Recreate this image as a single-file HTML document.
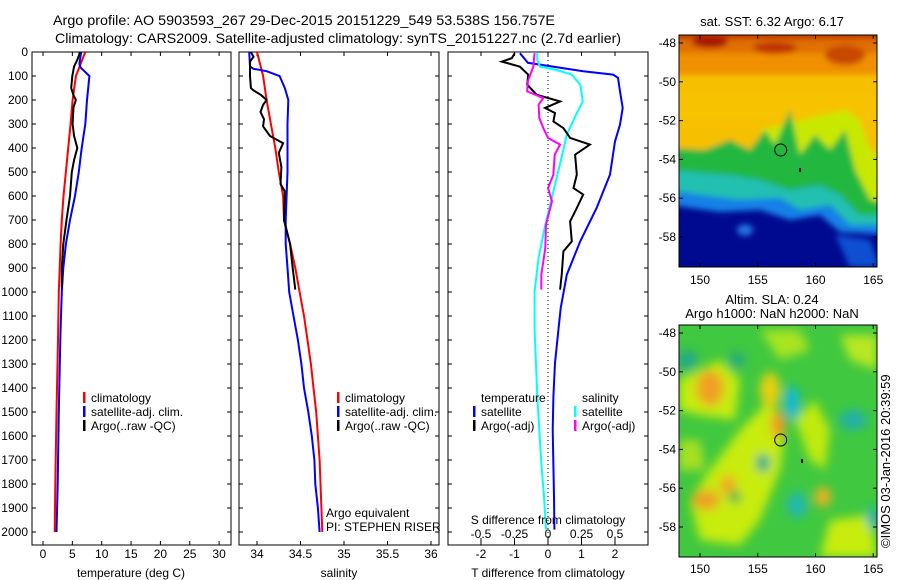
<!DOCTYPE html>
<html><head><meta charset="utf-8"><style>
html,body{margin:0;padding:0;background:#fff;}
svg{display:block;font-family:"Liberation Sans",sans-serif;}
</style></head><body>
<svg id="fig" width="900" height="580" viewBox="0 0 900 580" xmlns="http://www.w3.org/2000/svg">
<defs>
<filter id="blur3" x="-10%" y="-10%" width="120%" height="120%"><feGaussianBlur stdDeviation="3"/></filter>
<filter id="blur5" x="-20%" y="-20%" width="140%" height="140%"><feGaussianBlur stdDeviation="5"/></filter>
<clipPath id="cp1"><rect x="32" y="52" width="199" height="493"/></clipPath>
<clipPath id="cp2"><rect x="239" y="52" width="200" height="493"/></clipPath>
<clipPath id="cp3"><rect x="448" y="52" width="200" height="493"/></clipPath>
<clipPath id="cm1"><rect x="679" y="35" width="198" height="232"/></clipPath>
<clipPath id="cm2"><rect x="679" y="325" width="198" height="232"/></clipPath>
</defs>
<g font-size="14" fill="#000">
<text x="53" y="25" textLength="502" lengthAdjust="spacingAndGlyphs">Argo profile: AO 5903593_267 29-Dec-2015 20151229_549 53.538S 156.757E</text>
<text x="55" y="43" textLength="566" lengthAdjust="spacingAndGlyphs">Climatology: CARS2009. Satellite-adjusted climatology: synTS_20151227.nc (2.7d earlier)</text>
</g>

<!-- SST map -->
<g>
<g clip-path="url(#cm1)">
<rect x="679" y="35" width="198" height="232" fill="#000a90"/>
<g filter="url(#blur3)">
<rect x="670" y="25" width="220" height="60" fill="#f09000"/>
<rect x="670" y="25" width="220" height="28" fill="#e07000"/>
<rect x="670" y="25" width="220" height="14" fill="#c03800"/>
<ellipse cx="710" cy="42" rx="18" ry="6" fill="#a81800"/>
<ellipse cx="775" cy="48" rx="22" ry="6" fill="#c03000"/>
<ellipse cx="845" cy="55" rx="20" ry="10" fill="#c84800"/>
<path d="M670,75 L890,75 L890,180 L870,200 L855,170 L845,130 L830,150 L815,135 L800,155 L790,110 L775,145 L765,130 L750,150 L730,140 L705,150 L670,148 Z" fill="#f6c000"/>
<path d="M670,95 L890,95 L890,120 L670,120 Z" fill="#f8c400" opacity="0.6"/>
<path d="M760,130 L775,145 L790,112 L800,155 L815,135 L830,150 L845,130 L855,170 L870,200 L890,205 L890,160 L870,150 L860,120 L845,110 Z" fill="#c8e800"/>
<path d="M670,148 L705,150 L730,140 L750,150 L765,130 L775,145 L790,110 L800,155 L815,135 L830,150 L845,130 L855,170 L870,200 L890,205 L890,215 L860,215 L840,195 L820,185 L790,190 L760,180 L730,175 L670,170 Z" fill="#20b840"/>
<path d="M670,170 L730,175 L760,180 L790,190 L820,185 L840,195 L860,215 L890,215 L890,225 L850,225 L830,205 L800,210 L780,198 L740,200 L700,195 L670,190 Z" fill="#20c0b0"/>
<path d="M670,190 L700,195 L740,200 L780,198 L800,210 L830,205 L850,225 L890,225 L890,235 L840,232 L820,215 L790,220 L760,210 L720,212 L670,205 Z" fill="#1880e8"/>
<path d="M835,235 L870,240 L880,267 L850,267 Z" fill="#1050d0"/>
<ellipse cx="745" cy="230" rx="8" ry="6" fill="#2070e0"/>
</g>
<circle cx="780.7" cy="150" r="6" fill="none" stroke="#000" stroke-width="1"/>
<rect x="799" y="168" width="2" height="4" fill="#000"/>
</g>
<rect x="679" y="35" width="198" height="232" fill="none" stroke="#000"/>
</g>

<!-- SLA map -->
<g>
<g clip-path="url(#cm2)">
<rect x="679" y="325" width="198" height="232" fill="#40c840"/>
<g filter="url(#blur5)">
<path d="M679,380 L720,360 L740,380 L735,420 L700,415 L679,410 Z" fill="#c8ec10"/>
<path d="M740,430 L770,400 L785,430 L780,470 L760,520 L740,545 L700,540 L690,500 L710,470 Z" fill="#c8ec10"/>
<path d="M795,420 L815,400 L830,430 L825,470 L810,460 Z" fill="#c0ea10"/>
<path d="M830,520 L870,515 L877,557 L820,557 Z" fill="#c8ec10"/>
<path d="M760,330 L800,330 L810,350 L780,360 Z" fill="#a8e420"/>
<path d="M840,335 L877,335 L877,370 L850,360 Z" fill="#b8e820"/>
<path d="M679,440 L700,440 L705,470 L679,470 Z" fill="#a8e020"/>
<ellipse cx="710" cy="388" rx="14" ry="18" fill="#f0a020"/>
<ellipse cx="706" cy="500" rx="14" ry="10" fill="#f0a020"/>
<ellipse cx="728" cy="485" rx="8" ry="10" fill="#f0a820"/>
<ellipse cx="778" cy="425" rx="7" ry="14" fill="#f09a20"/>
<ellipse cx="823" cy="497" rx="8" ry="10" fill="#f0b020"/>
<ellipse cx="770" cy="390" rx="10" ry="18" fill="#e8d010"/>
<ellipse cx="687" cy="360" rx="10" ry="10" fill="#20a888"/>
<ellipse cx="792" cy="403" rx="7" ry="17" fill="#10b8e0"/>
<ellipse cx="853" cy="420" rx="14" ry="10" fill="#20b0a8"/>
<ellipse cx="797" cy="505" rx="10" ry="13" fill="#20b8b0"/>
<ellipse cx="763" cy="463" rx="7" ry="9" fill="#20a890"/>
<ellipse cx="873" cy="518" rx="6" ry="12" fill="#20b0b0"/>
<ellipse cx="737" cy="360" rx="8" ry="8" fill="#28a880"/>
<ellipse cx="735" cy="497" rx="6" ry="6" fill="#30b050"/>
</g>
<circle cx="780.7" cy="440" r="6" fill="none" stroke="#000" stroke-width="1"/>
<rect x="801" y="459" width="2" height="4" fill="#000"/>
</g>
<rect x="679" y="325" width="198" height="232" fill="none" stroke="#000"/>
</g>

<g font-size="13" text-anchor="middle">
<text x="772" y="26">sat. SST: 6.32 Argo: 6.17</text>
<text x="772" y="304">Altim. SLA: 0.24</text>
<text x="772" y="318">Argo h1000: NaN h2000: NaN</text>
</g>
<text font-size="13" transform="translate(890,548) rotate(-90)">©IMOS 03-Jan-2016 20:39:59</text>

<g id="dyn"></g>
</svg>
<script>
// ---------- Data ----------
var depthTicks = [0,100,200,300,400,500,600,700,800,900,1000,1100,1200,1300,1400,1500,1600,1700,1800,1900,2000];
var tempTicks = [0,5,10,15,20,25,30];
var salTicks = [34,34.5,35,35.5,36];
var tdiffTicks = [-2,-1,0,1,2];
var sdiffTicks = [-0.5,-0.25,0,0.25,0.5];
var latTicks = [-48,-50,-52,-54,-56,-58];
var lonTicks = [150,155,160,165];

var climDepth = [0,100,200,300,400,500,600,700,800,900,1000,1200,1500,1800,2000];
var climTemp  = [7.2,5.6,5.05,4.7,4.3,3.9,3.5,3.2,3.0,2.85,2.7,2.55,2.3,2.1,2.0];
var satTempDepth = [0,50,65,100,200,300,400,500,600,700,800,900,1000,1100,1200,1500,1800,2000];
var satTemp      = [6.5,6.2,6.4,7.9,7.5,7.2,6.6,6.1,5.45,4.6,3.9,3.45,3.2,3.07,2.95,2.7,2.5,2.3];
var argoDepth = [0,30,60,100,150,180,200,230,300,350,400,450,500,600,700,800,900,980];
var argoTemp  = [6.3,5.9,5.3,5.0,4.8,5.2,5.6,5.2,5.05,5.3,5.85,5.3,4.9,4.6,4.0,3.45,3.2,3.2];

var climSalDepth = [0,100,200,300,400,500,600,700,800,900,1000,1100,1200,1300,1400,1500,1600,1700,1800,1900,2000];
var climSal      = [34.0,34.07,34.11,34.16,34.21,34.25,34.3,34.31,34.38,34.44,34.49,34.54,34.58,34.62,34.65,34.68,34.7,34.72,34.73,34.74,34.75];
var satSalDepth = [0,60,70,80,100,150,200,300,500,700,800,900,1000,1100,1200,1300,1400,1500,1600,1700,1800,1900,2000];
var satSal      = [33.91,33.92,33.96,34.11,34.26,34.32,34.36,34.35,34.35,34.33,34.33,34.35,34.37,34.42,34.47,34.51,34.54,34.59,34.63,34.66,34.67,34.7,34.72];
var argoSalDepth = [0,20,40,100,150,160,180,200,220,250,280,310,350,380,420,480,550,580,700,800,900,990];
var argoSal      = [33.93,33.96,33.92,33.92,33.93,33.96,34.05,34.11,34.07,34.04,34.08,34.07,34.15,34.3,34.25,34.28,34.27,34.32,34.31,34.38,34.41,34.44];

var tSatDiffDepth = [5,45,80,94,108,164,233,303,372,511,650,789,928,1067,1158,1296,1435,1574,1851,1990];
var tSatDiff      = [-0.84,-0.6,1.05,1.94,2.09,2.15,2.23,2.15,2.0,1.85,1.45,0.96,0.56,0.38,0.31,0.21,0.16,0.14,0.18,0.19];
var sSatDiffDepth = [5,33,61,75,94,136,206,261,344,442,580,719,858,997,1158,1435,1713,1851,1990];
var sSatDiff      = [-0.08,-0.08,-0.06,0.065,0.177,0.24,0.26,0.21,0.14,0.10,0.04,-0.02,-0.07,-0.10,-0.10,-0.08,-0.05,-0.03,-0.015];
var tArgoDiffDepth = [5,26,40,61,94,136,178,206,233,254,289,317,358,386,428,511,567,594,650,706,789,831,928,990];
var tArgoDiff      = [-0.99,-1.08,-1.38,-0.84,-0.59,-0.62,-0.34,0.36,-0.09,0.21,0.16,0.46,0.66,1.25,0.81,0.86,0.76,1.05,0.86,0.66,0.71,0.46,0.41,0.36];
var sArgoDiffDepth = [5,61,122,164,192,219,275,317,358,386,428,511,567,622,719,817,928,990];
var sArgoDiff      = [-0.10,-0.11,-0.15,-0.155,-0.035,-0.07,-0.065,-0.035,0.0,0.09,0.05,0.04,0.0,0.03,-0.015,-0.02,-0.05,-0.05];

// ---------- Scales ----------
var TOP=52, BOT=545;
function yD(d){ return 52 + d*0.24; }
function xT(v){ return 43 + v*5.87; }
function xS(v){ return 257 + (v-34)*87; }
function xTd(v){ return 548 + v*33.5; }
function xSd(v){ return 548 + v*134; }
function lonX(v){ return 700 + (v-150)*11.55; }
function latY1(v){ return 43 + (-48 - v)*19.4; }
function latY2(v){ return 333 + (-48 - v)*19.4; }

var NS="http://www.w3.org/2000/svg";
var dyn=document.getElementById('dyn');
function el(tag, attrs, parent){
  var e=document.createElementNS(NS,tag);
  for(var k in attrs) e.setAttribute(k, attrs[k]);
  (parent||dyn).appendChild(e); return e;
}
function txt(x,y,s,anchor,size,parent){
  var t=el('text',{x:x,y:y,'font-size':size||12,'text-anchor':anchor||'start'},parent);
  t.textContent=s; return t;
}

function panel(name,x0,x1){
  var g=el('g',{});
  
  
  el('rect',{x:x0,y:TOP,width:x1-x0,height:BOT-TOP,fill:'none',stroke:'#000','stroke-width':1},g);
  return g;
}
function series(g,name,xs,ds,xf,color,clip){
  var pts=[];
  for(var i=0;i<xs.length;i++) pts.push(xf(xs[i]).toFixed(1)+','+yD(ds[i]).toFixed(1));
  var p=el('polyline',{points:pts.join(' '),fill:'none',stroke:color,'stroke-width':2,'clip-path':'url(#'+clip+')'},g);
  
  
}
function xticks(g,ticks,xf,labY){
  ticks.forEach(function(v){
    var x=xf(v);
    el('line',{x1:x,y1:BOT,x2:x,y2:BOT-4,stroke:'#000'},g);
    el('line',{x1:x,y1:TOP,x2:x,y2:TOP+4,stroke:'#000'},g);
    if(labY) txt(x,labY,String(v),'middle',12,g);
  });
}
function yticks(g,x0,x1,labels){
  depthTicks.forEach(function(d){
    var y=yD(d);
    el('line',{x1:x0,y1:y,x2:x0+4,y2:y,stroke:'#000'},g);
    el('line',{x1:x1,y1:y,x2:x1-4,y2:y,stroke:'#000'},g);
    if(labels) txt(x0-4,y+4,String(d),'end',12,g);
  });
}
function legendEntry(g,name,x,y,color,label){
  var le=el('g',{},g);
  
  
  el('rect',{x:x,y:y-10,width:2.5,height:11,fill:color},le);
  txt(x+8,y,label,'start',12,le);
}

// Panel 1
var g1=panel('temperature-panel',32,231);
yticks(g1,32,231,true);
xticks(g1,tempTicks,xT,558);
txt(131,577,'temperature (deg C)','middle',12,g1);
series(g1,'climatology-temp-line',climTemp,climDepth,xT,'#ff0000','cp1');
series(g1,'satellite-temp-line',satTemp,satTempDepth,xT,'#0000ff','cp1');
series(g1,'argo-temp-line',argoTemp,argoDepth,xT,'#000000','cp1');
legendEntry(g1,'legend-climatology',83,402,'#ff0000','climatology');
legendEntry(g1,'legend-satellite-adj',83,416,'#0000ff','satellite-adj. clim.');
legendEntry(g1,'legend-argo',83,430,'#000000','Argo(..raw -QC)');

// Panel 2
var g2=panel('salinity-panel',239,439);
yticks(g2,239,439,false);
xticks(g2,salTicks,xS,558);
txt(339,577,'salinity','middle',12,g2);
series(g2,'climatology-sal-line',climSal,climSalDepth,xS,'#ff0000','cp2');
series(g2,'satellite-sal-line',satSal,satSalDepth,xS,'#0000ff','cp2');
series(g2,'argo-sal-line',argoSal,argoSalDepth,xS,'#000000','cp2');
legendEntry(g2,'legend-climatology-2',337,402,'#ff0000','climatology');
legendEntry(g2,'legend-satellite-adj-2',337,416,'#0000ff','satellite-adj. clim.');
legendEntry(g2,'legend-argo-2',337,430,'#000000','Argo(..raw -QC)');
txt(326,517,'Argo equivalent','start',12,g2);
txt(326,531,'PI: STEPHEN RISER','start',12,g2);

// Panel 3
var g3=panel('difference-panel',448,648);
yticks(g3,448,648,false);
xticks(g3,tdiffTicks,xTd,558);
el('line',{x1:xTd(0),y1:TOP,x2:xTd(0),y2:BOT,stroke:'#000','stroke-dasharray':'1,3'},g3);
txt(548,577,'T difference from climatology','middle',12,g3);
series(g3,'t-satellite-diff-line',tSatDiff,tSatDiffDepth,xTd,'#0000ff','cp3');
series(g3,'s-satellite-diff-line',sSatDiff,sSatDiffDepth,xSd,'#00ffff','cp3');
series(g3,'t-argo-diff-line',tArgoDiff,tArgoDiffDepth,xTd,'#000000','cp3');
series(g3,'s-argo-diff-line',sArgoDiff,sArgoDiffDepth,xSd,'#ff00ff','cp3');
sdiffTicks.forEach(function(v){
  var x=xSd(v);
  el('line',{x1:x,y1:538,x2:x,y2:545,stroke:'#000'},g3);
  txt(x,538,String(v),'middle',12,g3);
});
txt(548,524,'S difference from climatology','middle',12,g3);
txt(481,402,'temperature','start',12,g3);
txt(582,402,'salinity','start',12,g3);
legendEntry(g3,'legend-t-satellite',473,416,'#0000ff','satellite');
legendEntry(g3,'legend-t-argo',473,430,'#000000','Argo(-adj)');
legendEntry(g3,'legend-s-satellite',574,416,'#00ffff','satellite');
legendEntry(g3,'legend-s-argo',574,430,'#ff00ff','Argo(-adj)');

// Map axes
function mapAxes(name,top,bot,latY,labY){
  var g=el('g',{});
  
  
  latTicks.forEach(function(v){
    var y=latY(v);
    el('line',{x1:679,y1:y,x2:683,y2:y,stroke:'#000'},g);
    el('line',{x1:877,y1:y,x2:873,y2:y,stroke:'#000'},g);
    txt(676,y+4,String(v),'end',12,g);
  });
  lonTicks.forEach(function(v){
    var x=lonX(v);
    el('line',{x1:x,y1:bot,x2:x,y2:bot-4,stroke:'#000'},g);
    el('line',{x1:x,y1:top,x2:x,y2:top+4,stroke:'#000'},g);
    txt(x,labY,String(v),'middle',12,g);
  });
}
mapAxes('sst-map-axes',35,267,latY1,284);
mapAxes('sla-map-axes',325,557,latY2,573);
</script>
</body></html>
